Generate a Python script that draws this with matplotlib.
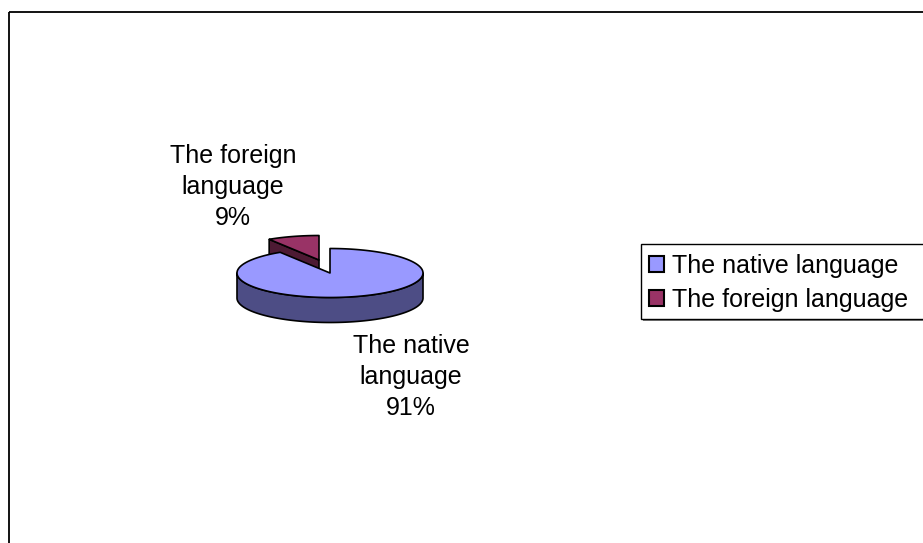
import numpy as np
import matplotlib.pyplot as plt
from matplotlib.patches import Polygon, Rectangle, Patch

plt.rcParams['font.family'] = ['Liberation Sans', 'DejaVu Sans']

labels = ['The native language', 'The foreign language']
shares = [91, 9]
top_colors = ['#9999ff', '#993366']
side_colors = ['#4d4d85', '#4d1a33']

W, H = 923, 543
fig = plt.figure(figsize=(W / 100, H / 100), dpi=100)
ax = fig.add_axes([0, 0, 1, 1])
ax.set_xlim(0, W)
ax.set_ylim(H, 0)
ax.axis('off')

# chart area frame
ax.add_patch(Rectangle((8.5, 11.5), 940, 560, fill=False, ec='black', lw=1.3))

# 3d pie geometry (pixel space)
cx, cy = 330, 273
rx, ry = 93, 24.5
depth = 25
explode = {1: (-11, -13)}


def pt(t, ox, oy, dz=0.0):
    return (cx + ox + rx * np.cos(t), cy + oy - ry * np.sin(t) + dz)


fracs = np.array(shares, dtype=float) / sum(shares)
# slices start at 12 o'clock and run clockwise
starts = []
a = np.pi / 2
for f in fracs:
    starts.append((a - f * 2 * np.pi, a))
    a -= f * 2 * np.pi

for i in [1, 0]:  # back slice first
    t0, t1 = starts[i]
    ox, oy = explode.get(i, (0, 0))
    # outer wall, only the front half shows
    for shift in (-2 * np.pi, 0, 2 * np.pi):
        lo = max(t0 + shift, np.pi)
        hi = min(t1 + shift, 2 * np.pi)
        if hi <= lo:
            continue
        ts = np.linspace(lo, hi, 120)
        upper = [pt(t, ox, oy) for t in ts]
        lower = [pt(t, ox, oy, dz=depth) for t in ts[::-1]]
        ax.add_patch(Polygon(upper + lower, closed=True, fc=side_colors[i],
                             ec='black', lw=1.2, joinstyle='round'))
    # cut face on the counter-clockwise edge, if it faces us
    if np.sin(t1 + np.pi / 2) < -0.05:
        face = [(cx + ox, cy + oy), pt(t1, ox, oy), pt(t1, ox, oy, dz=depth),
                (cx + ox, cy + oy + depth)]
        ax.add_patch(Polygon(face, closed=True, fc=side_colors[i],
                             ec='black', lw=1.2))
    # top surface
    ts = np.linspace(t0, t1, 200)
    top = [(cx + ox, cy + oy)] + [pt(t, ox, oy) for t in ts]
    ax.add_patch(Polygon(top, closed=True, fc=top_colors[i], ec='black',
                         lw=1.2, joinstyle='round'))

ax.text(233, 187, 'The foreign\nlanguage\n%d%%' % shares[1], ha='center',
        va='center', fontsize=18, linespacing=1.35)
ax.text(411, 377, 'The native\nlanguage\n%d%%' % shares[0], ha='center',
        va='center', fontsize=18, linespacing=1.35)

# legend box with a gray drop shadow, runs off the right edge
ax.add_patch(Rectangle((642.5, 245.5), 320, 75, fc='#808080', ec='none'))
ax.add_patch(Rectangle((640.5, 243.5), 320, 75, fc='white', ec='black', lw=1.0))

handles = [Patch(fc=c, ec='black', lw=1.5) for c in top_colors]
leg = fig.legend(handles, labels, loc='upper left',
                 bbox_to_anchor=(649 / W, 1 - 254 / H),
                 fontsize=18, frameon=False,
                 handlelength=0.6, handleheight=0.6,
                 handletextpad=0.3, borderpad=0, labelspacing=0.4,
                 borderaxespad=0)

fig.savefig('out.png', dpi=100)
